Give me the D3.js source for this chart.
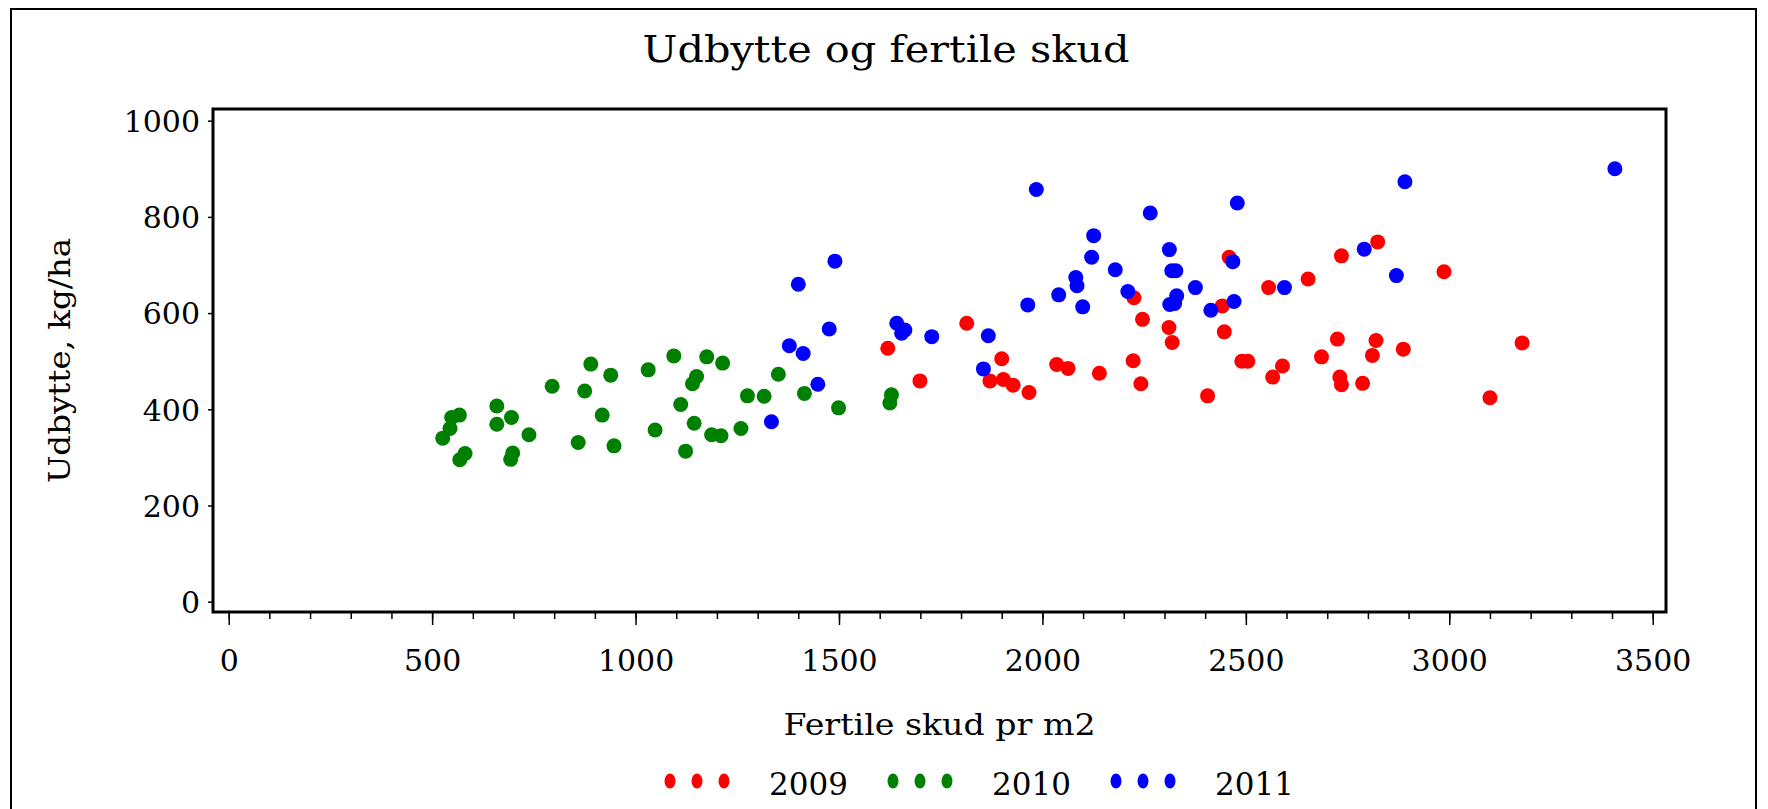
<!DOCTYPE html>
<html>
<head>
<meta charset="utf-8">
<script src="https://cdn.jsdelivr.net/npm/d3@7"></script>
<style>
  body { margin: 0; background: #fff; }
  svg { display: block; }
  text { font-family: 'DejaVu Serif', serif; fill: #000; }
</style>
</head>
<body>
<div id="chart"></div>
<script>
// fertile skud pr m2 / udbytte kg/ha
const pts2009 = [
  [1620, 527], [1814, 579], [1699, 459], [1900, 505], [1871, 459], [1904, 462],
  [1928, 450], [1967, 435], [2035, 493], [2063, 485], [2140, 475], [2246, 587],
  [2225, 632], [2311, 570], [2319, 539], [2223, 501], [2242, 453], [2447, 561],
  [2442, 615], [2406, 428], [2490, 500], [2505, 500], [2590, 490], [2566, 467],
  [2686, 509], [2725, 546], [2731, 467], [2735, 451], [2459, 716], [2556, 653],
  [2653, 671], [2735, 719], [2824, 748], [2987, 686], [2820, 543], [2811, 512],
  [2887, 525], [2787, 454], [3179, 538], [3100, 424]
]
const pts2010 = [
  [567, 388], [548, 383], [544, 360], [526, 340], [581, 308], [568, 295],
  [659, 407], [659, 369], [695, 383], [738, 347], [698, 309], [693, 296],
  [795, 448], [890, 494], [939, 471], [875, 438], [918, 388], [859, 331],
  [947, 324], [1031, 482], [1094, 511], [1175, 509], [1214, 496], [1150, 468],
  [1140, 453], [1111, 410], [1144, 371], [1048, 357], [1123, 313], [1187, 347],
  [1210, 345], [1259, 360], [1275, 428], [1316, 427], [1351, 473], [1415, 433],
  [1499, 403], [1629, 430], [1625, 413]
]
const pts2011 = [
  [1334, 374], [1378, 532], [1412, 516], [1448, 452], [1476, 567], [1400, 660],
  [1490, 708], [1642, 579], [1662, 565], [1654, 558], [1728, 551], [1867, 553],
  [1855, 484], [1964, 617], [1985, 857], [2040, 638], [2082, 674], [2085, 657],
  [2099, 613], [2121, 716], [2126, 761], [2179, 690], [2210, 645], [2265, 808],
  [2312, 732], [2318, 688], [2328, 688], [2330, 636], [2313, 618], [2325, 620],
  [2376, 653], [2414, 606], [2468, 707], [2471, 624], [2479, 829], [2595, 653],
  [2791, 733], [2870, 678], [2891, 873], [3407, 900]
]
const years = ['2009', '2010', '2011']
const colors = ['#ff0000', '#008000', '#0000ff']
const xMajor = [0, 500, 1000, 1500, 2000, 2500, 3000, 3500]
const yMajor = [0, 200, 400, 600, 800, 1000]

const W = 1768
const H = 809
const box = { l: 213, t: 109, r: 1666, b: 612 }

let svg = d3.select('#chart').append('svg')
  .attr('width', W)
  .attr('height', H)

// outer frame, runs off the bottom of the picture
svg.append('rect')
  .attr('x', 11).attr('y', 9)
  .attr('width', 1745).attr('height', 900)
  .attr('fill', 'none')
  .attr('stroke', '#000')
  .attr('stroke-width', 2)

let x = d3.scaleLinear().domain([0, 3500]).range([228.7, 1652.7])
let y = d3.scaleLinear().domain([0, 1000]).range([601.7, 120.7])

svg.append('text')
  .attr('x', 886).attr('y', 62)
  .attr('text-anchor', 'middle')
  .attr('font-size', 38)
  .attr('textLength', 487)
  .attr('lengthAdjust', 'spacingAndGlyphs')
  .text('Udbytte og fertile skud')

// minor x ticks
svg.append('g')
  .attr('transform', 'translate(0,' + box.b + ')')
  .call(d3.axisBottom(x).tickValues(d3.range(0, 3501, 100)).tickSize(7).tickFormat(''))
  .call(g => g.select('.domain').remove())
  .call(g => g.selectAll('line').attr('stroke-width', 1.5))

let xAxis = svg.append('g')
  .attr('transform', 'translate(0,' + box.b + ')')
  .call(d3.axisBottom(x).tickValues(xMajor).tickSize(13).tickFormat(d3.format('d')))
xAxis.select('.domain').remove()
xAxis.selectAll('line').attr('stroke-width', 1.5)
xAxis.selectAll('text')
  .attr('y', 48).attr('dy', '0.36em')
  .attr('font-size', 30)
  .style('font-family', 'DejaVu Serif')

let yAxis = svg.append('g')
  .attr('transform', 'translate(' + box.l + ',0)')
  .call(d3.axisLeft(y).tickValues(yMajor).tickSize(5).tickPadding(8).tickFormat(d3.format('d')))
yAxis.select('.domain').remove()
yAxis.selectAll('line').attr('stroke-width', 1.5)
yAxis.selectAll('text')
  .attr('dy', '0.36em')
  .attr('font-size', 30)
  .style('font-family', 'DejaVu Serif')

svg.append('text')
  .attr('x', (box.l + box.r) / 2).attr('y', 735)
  .attr('text-anchor', 'middle')
  .attr('font-size', 30)
  .attr('textLength', 312)
  .attr('lengthAdjust', 'spacingAndGlyphs')
  .text('Fertile skud pr m2')

svg.append('text')
  .attr('transform', 'translate(70,' + (box.t + box.b) / 2 + ') rotate(-90)')
  .attr('text-anchor', 'middle')
  .attr('font-size', 30)
  .attr('textLength', 245)
  .attr('lengthAdjust', 'spacingAndGlyphs')
  .text('Udbytte, kg/ha')

// points, 2011 on top
let series = [pts2009, pts2010, pts2011]
series.forEach(function (pts, i) {
  svg.append('g')
    .selectAll('circle')
    .data(pts)
    .enter().append('circle')
    .attr('cx', d => x(d[0]))
    .attr('cy', d => y(d[1]))
    .attr('r', 7.5)
    .attr('fill', colors[i])
})

svg.append('rect')
  .attr('x', box.l).attr('y', box.t)
  .attr('width', box.r - box.l).attr('height', box.b - box.t)
  .attr('fill', 'none')
  .attr('stroke', '#000')
  .attr('stroke-width', 3)

// legend
let legendX = [670, 893, 1116]
let leg = svg.append('g')
years.forEach(function (yr, i) {
  let g = leg.append('g').attr('transform', 'translate(' + legendX[i] + ',781)')
  g.selectAll('ellipse')
    .data([0, 1, 2])
    .enter().append('ellipse')
    .attr('cx', d => d * 27)
    .attr('cy', 0)
    .attr('rx', 5.5)
    .attr('ry', 7.5)
    .attr('fill', colors[i])
  g.append('text')
    .attr('x', 99).attr('y', 14)
    .attr('font-size', 31)
    .text(yr)
})
</script>
</body>
</html>
